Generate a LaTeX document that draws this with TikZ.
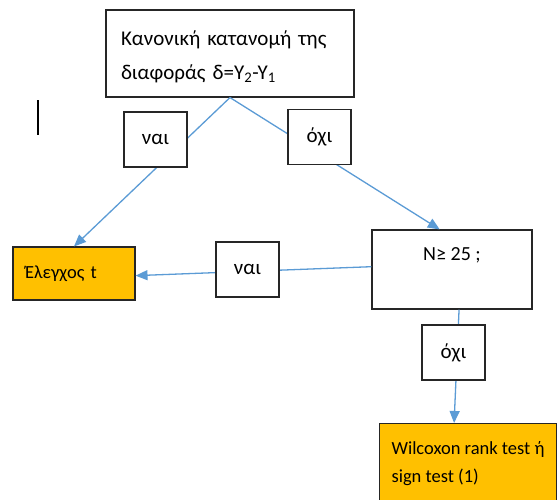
\documentclass[tikz,border=0pt]{standalone}
\usepackage{fontspec}
\setmainfont{Carlito}
\usetikzlibrary{arrows.meta}
\definecolor{linkblue}{RGB}{91,155,213}
\definecolor{resultorange}{RGB}{255,192,0}

\begin{document}
\begin{tikzpicture}[x=1pt, y=-1pt,
    box/.style={rectangle, draw=black!85, line width=1.1pt, fill=white, font=\fontsize{21}{34}\selectfont},
    answer/.style={box, minimum width=63pt, minimum height=55pt, inner sep=0pt},
    result/.style={box, fill=resultorange, font=\fontsize{18.5}{28}\selectfont, align=left},
    link/.style={draw=linkblue, line width=1.3pt},
    arrow/.style={link, -{Triangle[length=12pt, width=10pt]}}]
    \useasboundingbox (0,0) rectangle (558,499);
    \clip (0,0) rectangle (558,499);

    % Question boxes
    \node[box, minimum width=248pt, minimum height=87pt, text width=218pt, inner xsep=15pt, align=left] (normal) at (230,53.5) {\rule{0pt}{21pt}Κανονική κατανομή της\\διαφοράς δ=Υ\textsubscript{2}-Υ\textsubscript{1}};
    \node[box, minimum width=160pt, minimum height=79pt, text depth=30pt, font=\fontsize{20}{24}\selectfont] (sample) at (452,269.5) {N≥ 25 ;};

    % Result boxes
    \node[result, minimum width=122pt, minimum height=53pt, text width=98pt, inner xsep=12pt] (ttest) at (74,273.5) {Έλεγχος t};
    \node[result, anchor=north west, minimum width=176pt, minimum height=80pt, inner xsep=12pt] (wilcoxon) at (379,423) {Wilcoxon rank test ή\\sign test (1)};

    % Cursor mark
    \draw[line width=1.3pt] (38,100) -- (38,135);

    % Arrows
    \draw[arrow] (normal.south) -- (ttest.north);
    \draw[arrow] (normal.south) -- (sample.107);
    \draw[arrow] (sample.178) -- (ttest.358);
    \draw[arrow] (sample.280) -- (wilcoxon.109);

    % Answers on the arrows
    \node[answer] (yes1) at (155.5,139.5) {ναι};
    \node[answer] (no1) at (319.5,137) {όχι};
    \node[answer] (yes2) at (247.5,269.5) {ναι};
    \node[answer] (no2) at (453.5,352.5) {όχι};
\end{tikzpicture}
\end{document}
